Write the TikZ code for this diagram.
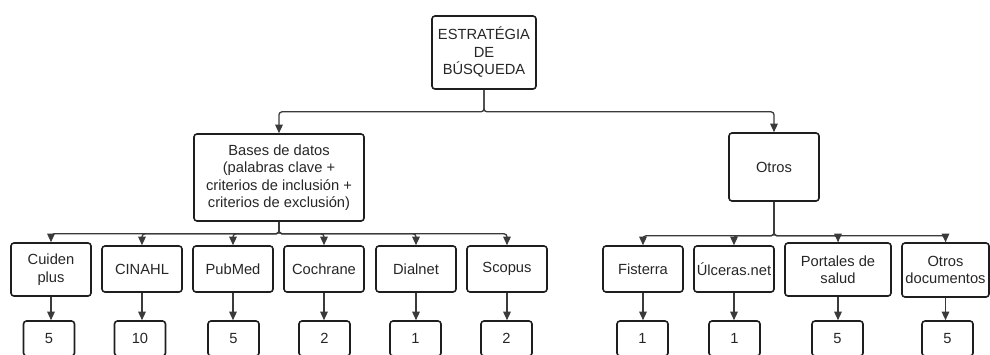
\documentclass[tikz,border=0pt]{standalone}
\usepackage{fontspec}
\setmainfont{Liberation Sans}
\usetikzlibrary{arrows.meta}
\definecolor{boxc}{HTML}{1E1E1E}
\definecolor{linec}{HTML}{3A3A3A}
\definecolor{txt}{HTML}{262626}
\begin{document}
\begin{tikzpicture}[x=1pt,y=-1pt,
  box/.style={draw=boxc, line width=1.6pt, rounded corners=3pt, align=center,
    inner sep=0pt, text=txt, font=\fontsize{14.7}{17.5}\selectfont},
  numbox/.style={box, minimum width=51pt, minimum height=35pt},
  conn/.style={draw=linec, line width=1.3pt, rounded corners=3pt,
    -{Triangle[length=8.5pt,width=7.5pt]}}]
\useasboundingbox (0,0) rectangle (990,354);
\clip (0,0) rectangle (990,354);
% level 0
\node[box, minimum width=104pt, minimum height=73pt] (top) at (484,52.5) {ESTRATÉGIA\\DE\\BÚSQUEDA};
% level 1
\node[box, minimum width=170pt, minimum height=87pt] (bases) at (279,177.5) {Bases de datos\\(palabras clave +\\criterios de inclusión +\\criterios de exclusión)};
\node[box, minimum width=90pt, minimum height=68pt] (otros) at (774,167) {Otros};
% level 2
\node[box, minimum width=80pt, minimum height=53pt] (cuiden) at (51,269.5) {Cuiden\\plus};
\node[box, minimum width=80pt, minimum height=46pt] (cinahl) at (142,269) {CINAHL};
\node[box, minimum width=80pt, minimum height=46pt] (pubmed) at (233,269) {PubMed};
\node[box, minimum width=80pt, minimum height=46pt] (cochrane) at (324,269) {Cochrane};
\node[box, minimum width=80pt, minimum height=46pt] (dialnet) at (416,269) {Dialnet};
\node[box, minimum width=80pt, minimum height=46pt] (scopus) at (507,269) {Scopus};
\node[box, minimum width=80pt, minimum height=46pt] (fisterra) at (643,269) {Fisterra};
\node[box, minimum width=80pt, minimum height=46pt] (ulceras) at (734,269) {Úlceras.net};
\node[box, minimum width=106pt, minimum height=53pt] (portales) at (838,269.5) {Portales de\\salud};
\node[box, minimum width=87pt, minimum height=54pt] (otrosdoc) at (945.5,270) {Otros\\documentos};
% level 3
\node[numbox] (n1) at (49,338.5) {5};
\node[numbox] (n2) at (140,338.5) {10};
\node[numbox] (n3) at (233.5,338.5) {5};
\node[numbox] (n4) at (324.5,338.5) {2};
\node[numbox] (n5) at (415.5,338.5) {1};
\node[numbox] (n6) at (506.5,338.5) {2};
\node[numbox] (n7) at (642.5,338.5) {1};
\node[numbox] (n8) at (734.5,338.5) {1};
\node[numbox] (n9) at (837.5,338.5) {5};
\node[numbox] (n10) at (947.5,338.5) {5};
% connectors
\draw[conn] (top.south) -- ++(0,22) -| (bases.north);
\draw[conn] (top.south) -- ++(0,22) -| (otros.north);
\foreach \c in {cuiden,cinahl,pubmed,cochrane,dialnet,scopus}
  \draw[conn] (bases.south) -- ++(0,12) -| (\c.north);
\foreach \c in {fisterra,ulceras,portales,otrosdoc}
  \draw[conn] (otros.south) -- ++(0,34) -| (\c.north);
\foreach \a/\b in {cuiden/n1,cinahl/n2,pubmed/n3,cochrane/n4,dialnet/n5,scopus/n6,fisterra/n7,ulceras/n8,portales/n9,otrosdoc/n10}
  \draw[conn] (\a.south) -- (\a.south |- \b.north);
\end{tikzpicture}
\end{document}
